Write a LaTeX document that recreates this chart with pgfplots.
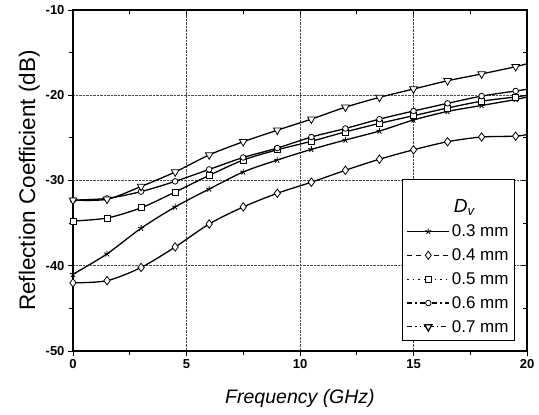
\documentclass[border=0pt]{standalone}
\usepackage{pgfplots}
\pgfplotsset{compat=1.18}
\usepackage{fontspec}
\setmainfont{Liberation Sans}
\pgfplotsset{
  mybase/.style={
    scale only axis,
    width=454pt, height=341pt,
    xmin=0, xmax=20, ymin=-50, ymax=-10,
    xtick={0,5,10,15,20}, ytick={-50,-40,-30,-20,-10},
    minor x tick num=1, minor y tick num=1,
    major tick length=5pt, minor tick length=4pt,
    tick style={black, line width=0.9pt},
    axis line style={line width=1.1pt},
  }
}
\begin{document}
\begin{tikzpicture}
\begin{axis}[
  mybase,
  xtick pos=left, ytick pos=left,
  tick align=outside,
  grid=major,
  grid style={densely dotted, black!70, line width=0.6pt},
  /pgf/number format/assume math mode=true,
  ticklabel style={font=\fontsize{13}{15}\selectfont\bfseries},
  xlabel={\fontsize{19.5}{22}\selectfont\itshape Frequency (GHz)},
  ylabel={\fontsize{22.5}{24}\selectfont Reflection Coefficient (dB)},
  xlabel style={yshift=-14pt},
  ylabel style={yshift=-1pt},
  legend cell align=left,
  legend style={at={(axis cs:19.47,-48.83)}, anchor=south east,
    draw=black, line width=0.9pt, fill=white,
    font=\fontsize{17}{19}\selectfont, row sep=6.5pt,
    inner xsep=4pt, inner ysep=5pt},
  legend image code/.code={\draw[#1, line width=1.1pt] (0pt,0pt) -- (42pt,0pt); \path[#1, solid, fill=white] plot coordinates {(21pt,0pt)};},
  every axis plot/.append style={line width=1.3pt, black, smooth, tension=0.5,
     mark size=3.6pt, mark options={solid, fill=white, line width=0.8pt}},
]
\addlegendimage{empty legend}
\addlegendentry{\rule{0pt}{26pt}\hspace*{2pt}\fontsize{19}{21}\selectfont\itshape D\textsubscript{v}}
\addlegendimage{solid, mark=star, mark size=3pt}
\addlegendentry{0.3 mm}
\addlegendimage{dash pattern=on 5pt off 4pt, mark=diamond*, mark size=4pt}
\addlegendentry{0.4 mm}
\addlegendimage{dash pattern=on 1.5pt off 4pt, mark=square*, mark size=2.8pt}
\addlegendentry{0.5 mm}
\addlegendimage{dash pattern=on 5pt off 3pt on 1.5pt off 3pt, mark=*, mark size=2.8pt}
\addlegendentry{0.6 mm}
\addlegendimage{dash pattern=on 5pt off 3pt on 1.5pt off 3pt on 1.5pt off 3pt, mark=triangle*, mark size=4.2pt, mark options={rotate=180}}
\addlegendentry{0.7 mm}

% 0.3 mm
\addplot[forget plot, mark=star, mark size=3.2pt, mark indices={1,...,14}] coordinates {
(0,-41.0) (1.5,-38.6) (3,-35.6) (4.5,-33.1) (6,-31.0) (7.5,-29.0) (9,-27.6) (10.5,-26.35) (12,-25.25) (13.5,-24.2) (15,-22.9) (16.5,-21.9) (18,-21.2) (19.5,-20.5) (20,-20.2)};
% 0.4 mm
\addplot[forget plot, mark=diamond*, mark size=4.2pt, mark indices={1,...,14}] coordinates {
(0,-42.0) (1.5,-41.75) (3,-40.2) (4.5,-37.8) (6,-35.1) (7.5,-33.1) (9,-31.5) (10.5,-30.2) (12,-28.8) (13.5,-27.5) (15,-26.4) (16.5,-25.45) (18,-24.9) (19.5,-24.8) (20,-24.6)};
% 0.5 mm
\addplot[forget plot, mark=square*, mark size=3pt, mark indices={1,...,14}] coordinates {
(0,-34.75) (1.5,-34.4) (3,-33.2) (4.5,-31.35) (6,-29.4) (7.5,-27.6) (9,-26.4) (10.5,-25.4) (12,-24.3) (13.5,-23.3) (15,-22.4) (16.5,-21.5) (18,-20.7) (19.5,-20.2) (20,-20.0)};
% 0.6 mm
\addplot[forget plot, mark=*, mark size=2.8pt, mark indices={1,...,14}] coordinates {
(0,-32.3) (1.5,-32.1) (3,-31.3) (4.5,-30.1) (6,-28.7) (7.5,-27.3) (9,-26.2) (10.5,-24.9) (12,-23.9) (13.5,-22.8) (15,-21.85) (16.5,-20.95) (18,-20.1) (19.5,-19.5) (20,-19.3)};
% 0.7 mm
\addplot[forget plot, mark=triangle*, mark size=4.4pt, mark options={rotate=180, solid, fill=white, line width=0.8pt}, mark indices={1,...,14}] coordinates {
(0,-32.3) (1.5,-32.2) (3,-30.7) (4.5,-29.0) (6,-27.0) (7.5,-25.45) (9,-24.1) (10.5,-22.8) (12,-21.4) (13.5,-20.25) (15,-19.27) (16.5,-18.3) (18,-17.5) (19.5,-16.65) (20,-16.3)};
% bounding box matching the reference margins
\path (rel axis cs:0,0) ++(-73pt,-63pt) coordinate (bbA);
\path (rel axis cs:1,1) ++(12pt,10pt) coordinate (bbB);
\end{axis}
\begin{axis}[
  mybase,
  xtick pos=right, ytick pos=right,
  tick align=inside,
  xticklabels={}, yticklabels={},
  axis line style={draw=none},
]
\end{axis}
\useasboundingbox (bbA) rectangle (bbB);
\end{tikzpicture}
\end{document}
